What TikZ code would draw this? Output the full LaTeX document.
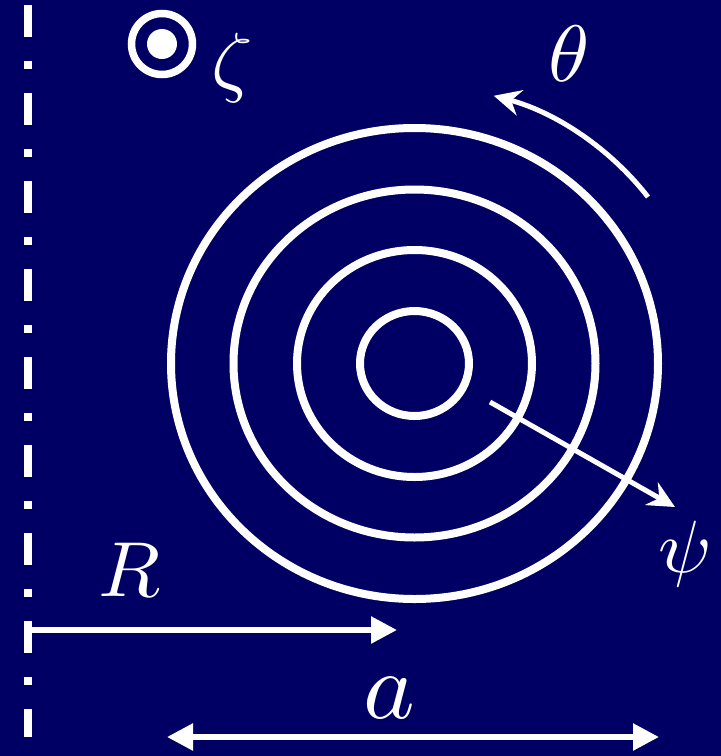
\RequirePackage{fix-cm}
\documentclass[tikz,border=0pt]{standalone}
\usepackage{graphicx}
\usetikzlibrary{arrows.meta}
\definecolor{bgnavy}{RGB}{0,0,100}
\newcommand{\biglbl}[2]{\scalebox{#1}[#2]}
\begin{document}
\begin{tikzpicture}[x=1pt,y=-1pt,
  ring/.style={draw=white, line width=8pt},
  axisline/.style={draw=white, line width=8pt, line cap=butt, dash pattern=on 32pt off 24pt on 8pt off 24pt},
  dimarrow/.style={draw=white, line width=5.5pt, -{Triangle[length=26pt,width=26pt]}},
  dirarrow/.style={draw=white, line width=5pt, -{Stealth[length=27pt,width=26pt,inset=9pt]}},
  lbl/.style={text=white, inner sep=0pt}]
\fill[bgnavy] (0,0) rectangle (721,756);
\useasboundingbox (0,0) rectangle (721,756);
% axis
\coordinate (axtop) at (27.5,5);
\coordinate (axbot) at (27.5,737);
\draw[axisline] (axtop) -- (axbot);
% zeta symbol
\node[draw=white, line width=7.5pt, circle, minimum size=61pt, inner sep=0pt] (zsym) at (162,44) {};
\fill[white] (zsym.center) circle[radius=15];
\node[lbl] (zeta) at (232,68) {\biglbl{8.1}{7.8}{$\zeta$}};
% rings
\coordinate (c) at (414.5,363.5);
\draw[ring] (c) ellipse[x radius=243.5, y radius=235.5];
\draw[ring] (c) ellipse[x radius=181, y radius=174];
\draw[ring] (c) ellipse[x radius=117.5, y radius=113.5];
\draw[ring] (c) ellipse[x radius=54.5, y radius=52.5];
% theta arrow
\coordinate (ts) at (648,197);
\draw[dirarrow] (ts) arc[start angle=-36.8, end angle=-74.4, x radius=290, y radius=278];
\node[lbl] (theta) at (569,53.5) {\biglbl{8.3}{8}{$\theta$}};
% psi arrow
\coordinate (ps) at (490,402);
\coordinate (pe) at (675,507);
\draw[dirarrow] (ps) -- (pe);
\node[lbl] (psi) at (685,553.5) {\biglbl{7.8}{7.4}{$\psi$}};
% R arrow
\coordinate (rs) at (27.5,630);
\coordinate (re) at (397,630);
\draw[dimarrow] (rs) -- (re);
\node[lbl] (R) at (130,569.5) {\biglbl{8.1}{7.8}{$R$}};
% a arrow
\coordinate (as) at (167,737);
\coordinate (ae) at (659,737);
\draw[dimarrow, {Triangle[length=26pt,width=26pt]}-{Triangle[length=26pt,width=26pt]}] (as) -- (ae);
\node[lbl] (a) at (389,698.5) {\biglbl{9.8}{9.5}{$a$}};
\end{tikzpicture}
\end{document}
